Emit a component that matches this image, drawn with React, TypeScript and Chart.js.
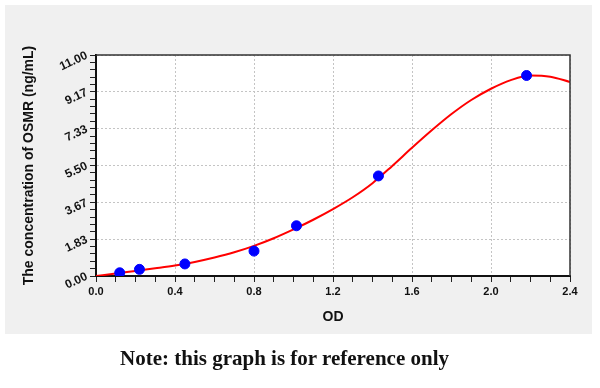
import React, { useEffect, useRef } from "react";
import { Chart, registerables } from "chart.js";

Chart.register(...registerables);

// Standard points (OD vs concentration)
const pointOD = [0.12, 0.22, 0.45, 0.8, 1.015, 1.43, 2.18];
const pointConc = [0.16, 0.33, 0.6, 1.24, 2.5, 4.98, 9.98];

// Fitted curve
const curveOD = [0, 0.1, 0.2, 0.3, 0.4, 0.5, 0.6, 0.7, 0.8, 0.9, 1.0, 1.1, 1.2, 1.3, 1.4, 1.5, 1.6, 1.7, 1.8, 1.9, 2.0, 2.1, 2.2, 2.3, 2.4];
const curveConc = [0, 0.12, 0.25, 0.38, 0.52, 0.7, 0.92, 1.18, 1.5, 1.88, 2.32, 2.8, 3.33, 3.92, 4.62, 5.48, 6.38, 7.25, 8.06, 8.76, 9.32, 9.75, 9.98, 9.92, 9.66];

// Axis tick labels
const xTickLabels = ["0.0", "0.4", "0.8", "1.2", "1.6", "2.0", "2.4"];
const yTickLabels = ["0.00", "1.83", "3.67", "5.50", "7.33", "9.17", "11.00"];
const xMinorPerMajor = 4;
const yMinorPerMajor = 5;

const xMax = 2.4;
const yMax = 11;

const xTitle = "OD";
const yTitle = "The concentration of OSMR (ng/mL)";
const noteText = "Note: this graph is for reference only";

function buildTicks(max: number, majors: number, per: number) {
  const n = majors * per;
  const out: { value: number }[] = [];
  for (let i = 0; i <= n; i++) out.push({ value: (max * i) / n });
  return out;
}

const frameBorder = {
  id: "frameBorder",
  afterDraw(chart: any) {
    const { ctx, chartArea } = chart;
    ctx.save();
    ctx.strokeStyle = "#333";
    ctx.lineWidth = 1.5;
    ctx.beginPath();
    ctx.moveTo(chartArea.left, chartArea.top);
    ctx.lineTo(chartArea.right, chartArea.top);
    ctx.lineTo(chartArea.right, chartArea.bottom);
    ctx.stroke();
    ctx.restore();
  },
};

export default function App() {
  const ref = useRef<HTMLCanvasElement>(null);

  useEffect(() => {
    if (!ref.current) return;
    const xTickFont = { family: "'Liberation Sans', Arial, sans-serif", size: 11, weight: "bold" as const };
    const yTickFont = { family: "'Liberation Sans', Arial, sans-serif", size: 12, weight: "bold" as const };
    const titleFont = { family: "'Liberation Sans', Arial, sans-serif", size: 14, weight: "bold" as const };
    const chart = new Chart(ref.current, {
      type: "scatter",
      data: {
        datasets: [
          {
            type: "line",
            data: curveOD.map((x, i) => ({ x, y: curveConc[i] })),
            borderColor: "#ff0000",
            borderWidth: 2,
            pointRadius: 0,
            fill: false,
            cubicInterpolationMode: "monotone",
            order: 2,
          } as any,
          {
            type: "scatter",
            data: pointOD.map((x, i) => ({ x, y: pointConc[i] })),
            backgroundColor: "#0000ff",
            borderColor: "#0000ff",
            pointRadius: 5,
            order: 1,
          },
        ],
      },
      options: {
        animation: false,
        responsive: false,
        maintainAspectRatio: false,
        layout: { padding: { left: 0, top: 55, right: 30, bottom: 52 } },
        plugins: { legend: { display: false }, tooltip: { enabled: false } },
        scales: {
          x: {
            type: "linear",
            min: 0,
            max: xMax,
            afterBuildTicks: (scale: any) => {
              scale.ticks = buildTicks(xMax, xTickLabels.length - 1, xMinorPerMajor);
            },
            afterFit: (scale: any) => {
              scale.height = 60;
            },
            ticks: {
              autoSkip: false,
              maxRotation: 0,
              minRotation: 0,
              padding: 3,
              color: "#111",
              font: xTickFont,
              callback: (_v: any, i: number) => (i % xMinorPerMajor === 0 ? xTickLabels[i / xMinorPerMajor] : ""),
            },
            grid: {
              color: (ctx: any) => (ctx.index % xMinorPerMajor === 0 ? "#c4c4c4" : "rgba(0,0,0,0)"),
              tickColor: "#222",
              tickLength: 6,
              lineWidth: 1,
            },
            border: { display: true, color: "#111", width: 2, dash: [2, 2] },
            title: { display: true, text: xTitle, color: "#111", font: titleFont, padding: { top: 0, bottom: 10 } },
          },
          y: {
            type: "linear",
            min: 0,
            max: yMax,
            afterBuildTicks: (scale: any) => {
              scale.ticks = buildTicks(yMax, yTickLabels.length - 1, yMinorPerMajor);
            },
            afterFit: (scale: any) => {
              scale.width = 96;
            },
            ticks: {
              autoSkip: false,
              minRotation: 25,
              maxRotation: 25,
              padding: 3,
              color: "#111",
              font: yTickFont,
              callback: (_v: any, i: number) => (i % yMinorPerMajor === 0 ? yTickLabels[i / yMinorPerMajor] : ""),
            },
            grid: {
              color: (ctx: any) => (ctx.index % yMinorPerMajor === 0 ? "#c4c4c4" : "rgba(0,0,0,0)"),
              tickColor: "#222",
              tickLength: 6,
              lineWidth: 1,
            },
            border: { display: true, color: "#111", width: 2, dash: [2, 2] },
            title: { display: true, text: yTitle, color: "#111", font: titleFont, padding: { top: 21, bottom: 0 } },
          },
        },
      },
      plugins: [frameBorder],
    });
    return () => chart.destroy();
  }, []);

  return (
    <div style={{ position: "fixed", left: 0, top: 0, width: 600, height: 388, background: "#ffffff", overflow: "hidden" }}>
      <div style={{ position: "absolute", left: 5, top: 5, width: 587, height: 329, background: "#f0f0f0" }} />
      <div style={{ position: "absolute", left: 96, top: 55, width: 474, height: 221, background: "#ffffff" }} />
      <canvas ref={ref} width={600} height={388} style={{ position: "absolute", left: 0, top: 0, width: 600, height: 388 }} />
      <div
        style={{
          position: "absolute",
          left: 0,
          width: 569,
          top: 345,
          textAlign: "center",
          fontFamily: "'Liberation Serif', 'Times New Roman', serif",
          fontWeight: "bold",
          fontSize: 21,
          lineHeight: "26px",
          color: "#111",
        }}
      >
        {noteText}
      </div>
    </div>
  );
}
